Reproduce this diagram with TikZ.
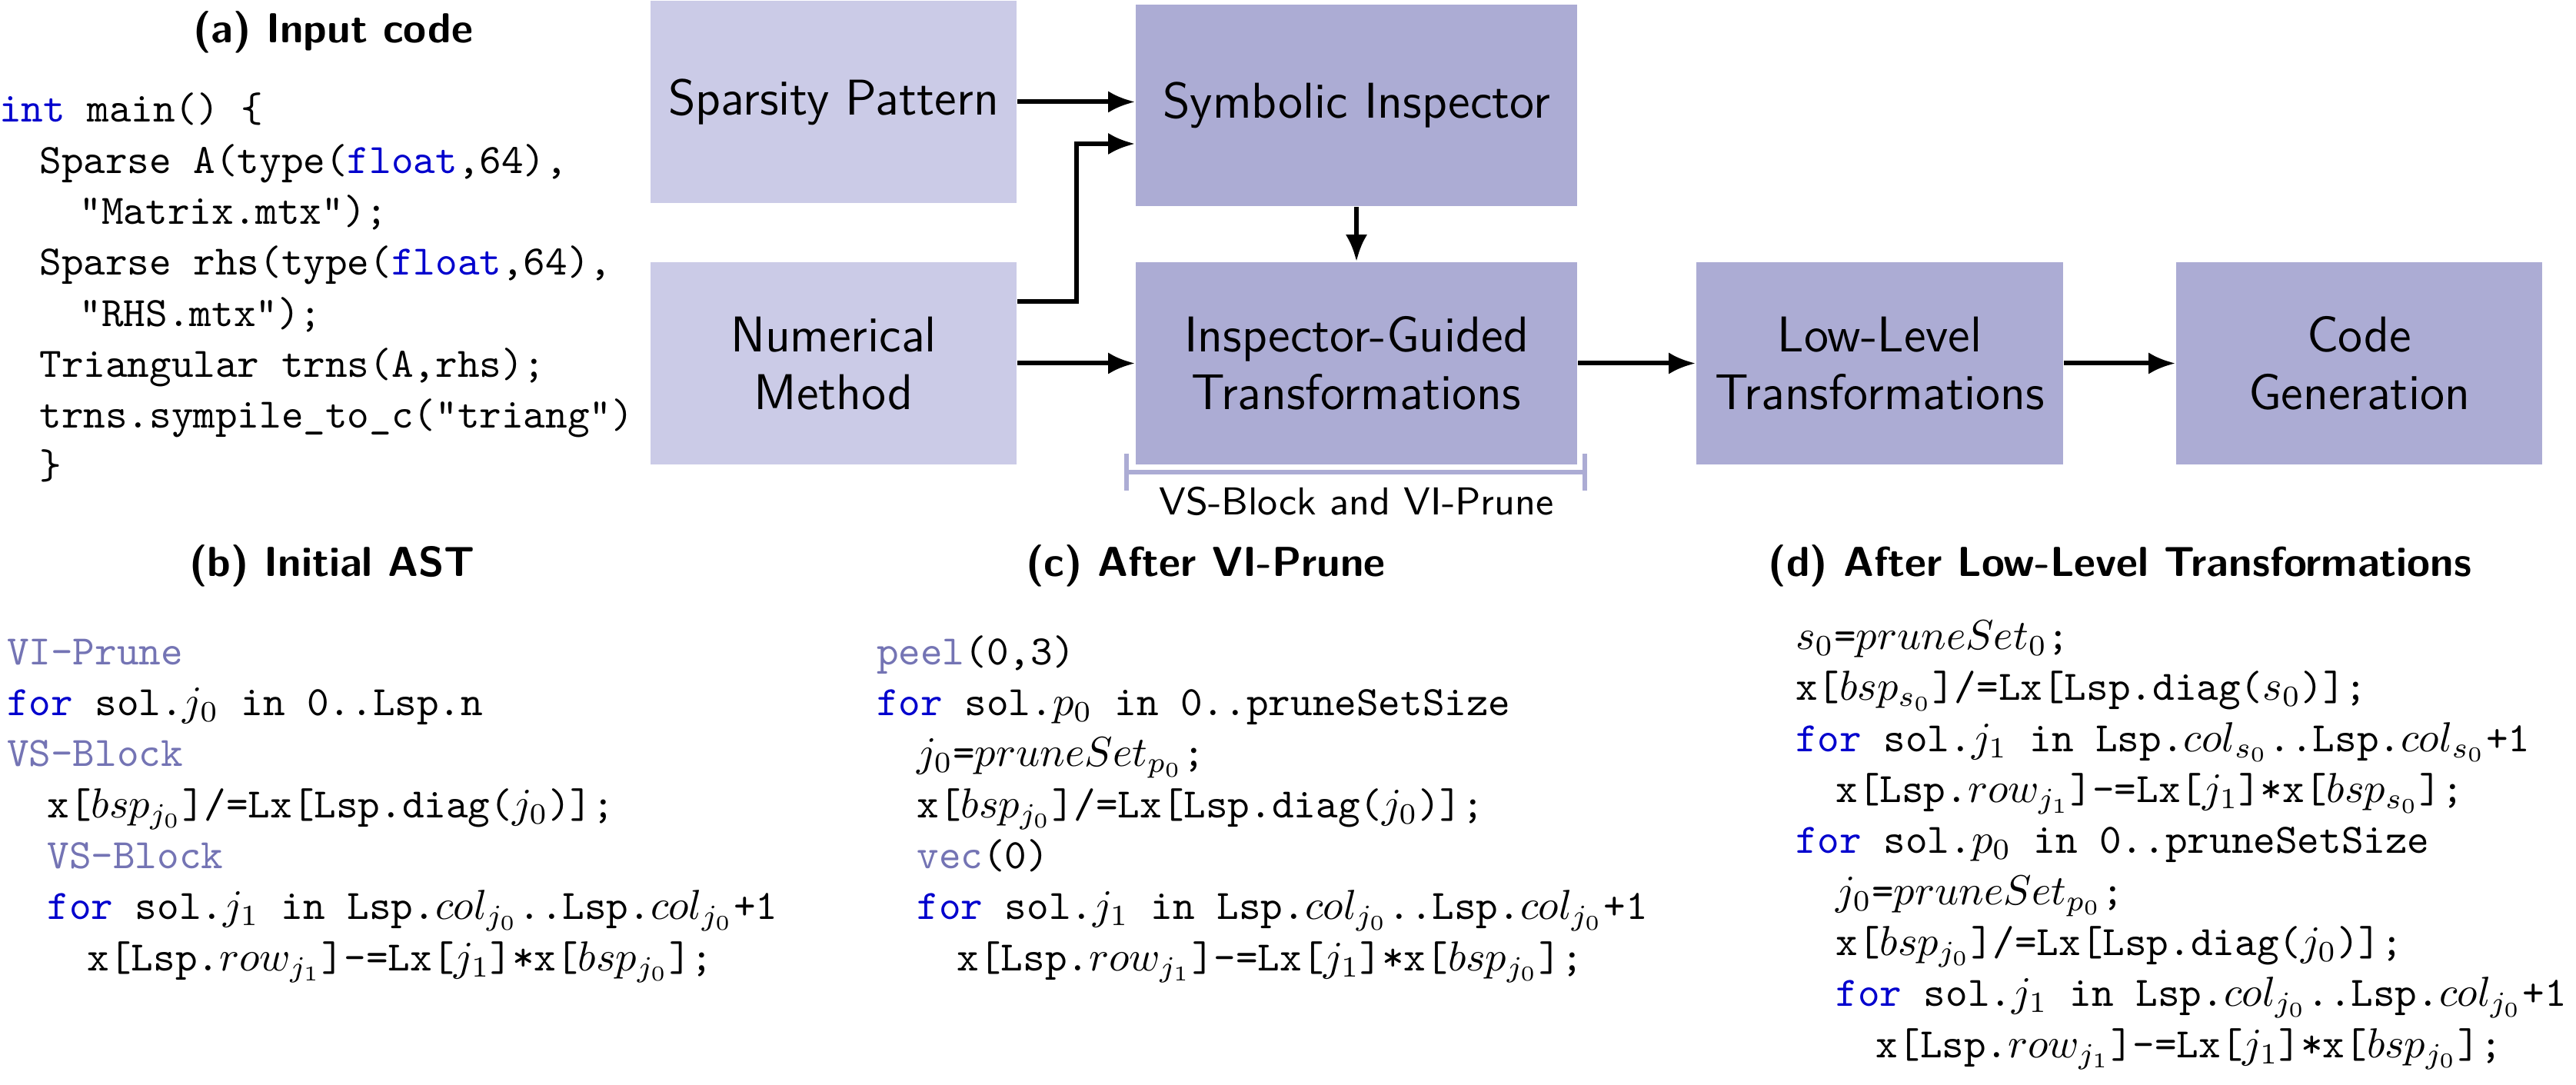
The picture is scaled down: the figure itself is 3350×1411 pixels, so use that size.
\documentclass[tikz,border=0pt]{standalone}
\usetikzlibrary{arrows.meta}
\newdimen\pxu \pxu=0.18349pt
\definecolor{boxlight}{RGB}{203,203,231}
\definecolor{boxdark}{RGB}{172,172,212}
\definecolor{annot}{RGB}{116,116,180}
\definecolor{kw}{RGB}{0,0,205}
\newcommand\ind{\hspace*{9.6pt}}
\newcommand\kw[1]{\textcolor{kw}{#1}}
\newcommand\an[1]{\textcolor{annot}{#1}}
\begin{document}
\begin{tikzpicture}[x=0.18349pt,y=-0.18349pt,
  box/.style={rectangle, inner sep=0pt, align=center, text=black,
    font=\fontsize{12}{13.8}\selectfont\sffamily},
  lightbox/.style={box, fill=boxlight, minimum width=476\pxu, minimum height=263\pxu},
  darkbox/.style={box, fill=boxdark, minimum height=263\pxu},
  arr/.style={line width=1.1pt, -{Latex[length=6.4pt,width=5.2pt]}},
  heading/.style={anchor=base, inner sep=0pt, font=\fontsize{10}{12}\selectfont\sffamily\bfseries},
  code/.style={anchor=base west, align=left, inner sep=0pt, font=\fontsize{10}{12.17}\selectfont\ttfamily},
  brk/.style={line width=1.2pt, draw=boxdark},
  lbl/.style={anchor=base, inner sep=0pt, font=\fontsize{9.3}{11}\selectfont\sffamily}]
\useasboundingbox (0,0) rectangle (3350,1411);

% pipeline boxes
\node[lightbox] (sp) at (1084,132.5) {Sparsity Pattern};
\node[darkbox, minimum width=574\pxu, minimum height=262\pxu] (si) at (1764,137) {Symbolic Inspector};
\node[lightbox] (nm) at (1084,472.5) {Numerical\\Method};
\node[darkbox, minimum width=574\pxu] (ig) at (1764,472.5) {Inspector-Guided\\Transformations};
\node[darkbox, minimum width=477\pxu] (ll) at (2444.5,472.5) {Low-Level\\Transformations};
\node[darkbox, minimum width=476\pxu] (cg) at (3068,472.5) {Code\\Generation};

% connectors
\draw[arr] (sp.east) -- (sp.east -| si.west);
\draw[arr] ([yshift=80.5\pxu]nm.east) -- ++(77,0) |- ([yshift=-50\pxu]si.west);
\draw[arr] (nm.east) -- (ig.west);
\draw[arr] (si.south) -- (ig.north);
\draw[arr] (ig.east) -- (ll.west);
\draw[arr] (ll.east) -- (cg.west);

% bracket
\coordinate (bl) at (1465,614);
\coordinate (br) at (2061,614);
\draw[brk] ([yshift=24\pxu]bl) -- ([yshift=-24\pxu]bl)
           (bl) -- (br)
           ([yshift=24\pxu]br) -- ([yshift=-24\pxu]br);
\node[lbl] (brlbl) at (1764,670) {VS-Block and VI-Prune};

% headings
\node[heading] (ha) at (433,56) {(a) Input code};
\node[heading] (hb) at (432,750) {(b) Initial AST};
\node[heading] (hc) at (1568,750) {(c) After VI-Prune};
\node[heading] (hd) at (2757,750) {(d) After Low-Level Transformations};

% code (a)  (anchor = baseline of last line)
\node[code] (codea) at (-2,623) {\kw{int} main() \{\\
\ind Sparse A(type(\kw{float},64),\\
\ind\ind "Matrix.mtx");\\
\ind Sparse rhs(type(\kw{float},64),\\
\ind\ind "RHS.mtx");\\
\ind Triangular trns(A,rhs);\\
\ind trns.sympile\_to\_c("triang")\\
\ind \}};

% code (b)
\node[code] (codeb) at (8,1262) {\an{VI-Prune}\\
\kw{for} sol.$j_0$ in 0..Lsp.n\\
\an{VS-Block}\\
\ind x[$bsp_{j_0}$]/=Lx[Lsp.diag($j_0$)];\\
\ind\an{VS-Block}\\
\ind\kw{for} sol.$j_1$ in Lsp.$col_{j_0}$..Lsp.$col_{j_0}$+1\\
\ind\ind x[Lsp.$row_{j_1}$]-=Lx[$j_1$]*x[$bsp_{j_0}$];};

% code (c)
\node[code] (codec) at (1139,1262) {\an{peel}(0,3)\\
\kw{for} sol.$p_0$ in 0..pruneSetSize\\
\ind $j_0$=$pruneSet_{p_0}$;\\
\ind x[$bsp_{j_0}$]/=Lx[Lsp.diag($j_0$)];\\
\ind\an{vec}(0)\\
\ind\kw{for} sol.$j_1$ in Lsp.$col_{j_0}$..Lsp.$col_{j_0}$+1\\
\ind\ind x[Lsp.$row_{j_1}$]-=Lx[$j_1$]*x[$bsp_{j_0}$];};

% code (d)
\node[code] (coded) at (2334,1375) {$s_0$=$pruneSet_0$;\\
x[$bsp_{s_0}$]/=Lx[Lsp.diag($s_0$)];\\
\kw{for} sol.$j_1$ in Lsp.$col_{s_0}$..Lsp.$col_{s_0}$+1\\
\ind x[Lsp.$row_{j_1}$]-=Lx[$j_1$]*x[$bsp_{s_0}$];\\
\kw{for} sol.$p_0$ in 0..pruneSetSize\\
\ind $j_0$=$pruneSet_{p_0}$;\\
\ind x[$bsp_{j_0}$]/=Lx[Lsp.diag($j_0$)];\\
\ind\kw{for} sol.$j_1$ in Lsp.$col_{j_0}$..Lsp.$col_{j_0}$+1\\
\ind\ind x[Lsp.$row_{j_1}$]-=Lx[$j_1$]*x[$bsp_{j_0}$];};
\end{tikzpicture}
\end{document}
